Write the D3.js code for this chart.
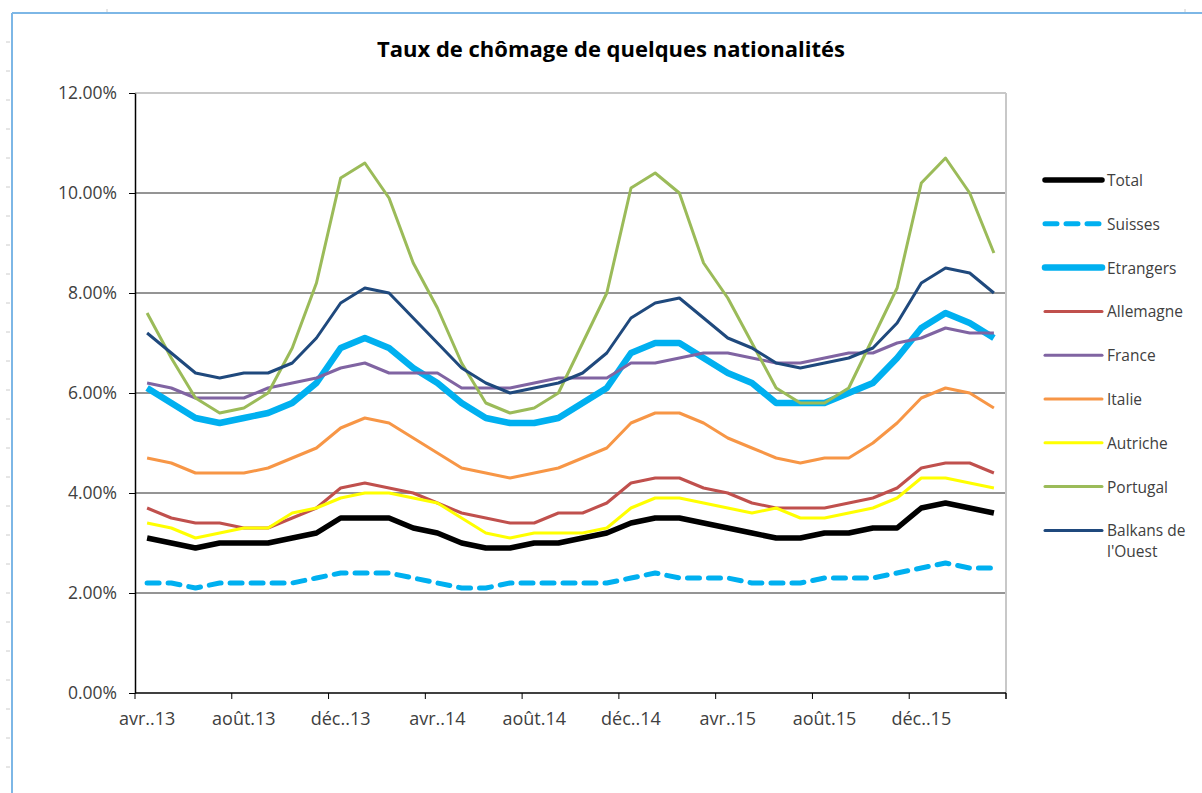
<!DOCTYPE html>
<html>
<head>
<meta charset="utf-8">
<script src="https://cdn.jsdelivr.net/npm/d3@7"></script>
<style>
  body { margin: 0; background: #fff; }
  svg { display: block; font-family: "Open Sans", "Noto Sans", sans-serif; }
</style>
</head>
<body>
<svg id="chart" width="1202" height="793"></svg>
<script>
// months avr.13 -> mars.16
var months = ["avr..13","mai.13","juin.13","juil..13","août.13","sept..13","oct..13","nov..13",
  "déc..13","janv..14","févr..14","mars.14","avr..14","mai.14","juin.14","juil..14","août.14",
  "sept..14","oct..14","nov..14","déc..14","janv..15","févr..15","mars.15","avr..15","mai.15",
  "juin.15","juil..15","août.15","sept..15","oct..15","nov..15","déc..15","janv..16","févr..16","mars.16"];

var total     = [3.1,3.0,2.9,3.0,3.0,3.0,3.1,3.2,3.5,3.5,3.5,3.3,3.2,3.0,2.9,2.9,3.0,3.0,3.1,3.2,3.4,3.5,3.5,3.4,3.3,3.2,3.1,3.1,3.2,3.2,3.3,3.3,3.7,3.8,3.7,3.6];
var suisses   = [2.2,2.2,2.1,2.2,2.2,2.2,2.2,2.3,2.4,2.4,2.4,2.3,2.2,2.1,2.1,2.2,2.2,2.2,2.2,2.2,2.3,2.4,2.3,2.3,2.3,2.2,2.2,2.2,2.3,2.3,2.3,2.4,2.5,2.6,2.5,2.5];
var etrangers = [6.1,5.8,5.5,5.4,5.5,5.6,5.8,6.2,6.9,7.1,6.9,6.5,6.2,5.8,5.5,5.4,5.4,5.5,5.8,6.1,6.8,7.0,7.0,6.7,6.4,6.2,5.8,5.8,5.8,6.0,6.2,6.7,7.3,7.6,7.4,7.1];
var allemagne = [3.7,3.5,3.4,3.4,3.3,3.3,3.5,3.7,4.1,4.2,4.1,4.0,3.8,3.6,3.5,3.4,3.4,3.6,3.6,3.8,4.2,4.3,4.3,4.1,4.0,3.8,3.7,3.7,3.7,3.8,3.9,4.1,4.5,4.6,4.6,4.4];
var france    = [6.2,6.1,5.9,5.9,5.9,6.1,6.2,6.3,6.5,6.6,6.4,6.4,6.4,6.1,6.1,6.1,6.2,6.3,6.3,6.3,6.6,6.6,6.7,6.8,6.8,6.7,6.6,6.6,6.7,6.8,6.8,7.0,7.1,7.3,7.2,7.2];
var italie    = [4.7,4.6,4.4,4.4,4.4,4.5,4.7,4.9,5.3,5.5,5.4,5.1,4.8,4.5,4.4,4.3,4.4,4.5,4.7,4.9,5.4,5.6,5.6,5.4,5.1,4.9,4.7,4.6,4.7,4.7,5.0,5.4,5.9,6.1,6.0,5.7];
var autriche  = [3.4,3.3,3.1,3.2,3.3,3.3,3.6,3.7,3.9,4.0,4.0,3.9,3.8,3.5,3.2,3.1,3.2,3.2,3.2,3.3,3.7,3.9,3.9,3.8,3.7,3.6,3.7,3.5,3.5,3.6,3.7,3.9,4.3,4.3,4.2,4.1];
var portugal  = [7.6,6.7,5.9,5.6,5.7,6.0,6.9,8.2,10.3,10.6,9.9,8.6,7.7,6.6,5.8,5.6,5.7,6.0,7.0,8.0,10.1,10.4,10.0,8.6,7.9,7.0,6.1,5.8,5.8,6.1,7.1,8.1,10.2,10.7,10.0,8.8];
var balkans   = [7.2,6.8,6.4,6.3,6.4,6.4,6.6,7.1,7.8,8.1,8.0,7.5,7.0,6.5,6.2,6.0,6.1,6.2,6.4,6.8,7.5,7.8,7.9,7.5,7.1,6.9,6.6,6.5,6.6,6.7,6.9,7.4,8.2,8.5,8.4,8.0];

var yTicks = [0,2,4,6,8,10,12];

var series = [
  {name: "Total", values: total, color: "#000000", width: 5.5},
  {name: "Suisses", values: suisses, color: "#00B0F0", width: 5, dash: "12,9"},
  {name: "Etrangers", values: etrangers, color: "#00B0F0", width: 6.5},
  {name: "Allemagne", values: allemagne, color: "#C0504D", width: 3},
  {name: "France", values: france, color: "#8064A2", width: 3},
  {name: "Italie", values: italie, color: "#F79646", width: 3},
  {name: "Autriche", values: autriche, color: "#FFFF00", width: 3},
  {name: "Portugal", values: portugal, color: "#9BBB59", width: 3},
  {name: "Balkans de|l'Ouest", values: balkans, color: "#1F497D", width: 3}
];

var svg = d3.select("#chart");

// sheet frame
svg.append("line").attr("x1", 12).attr("x2", 1202).attr("y1", 13).attr("y2", 13)
  .attr("stroke", "#7DB7E6").attr("stroke-width", 2);
svg.append("line").attr("x1", 12).attr("x2", 12).attr("y1", 13).attr("y2", 793)
  .attr("stroke", "#7DB7E6").attr("stroke-width", 2);
for (var ty = 42; ty < 793; ty += 29) {
  svg.append("line").attr("x1", 6).attr("x2", 10).attr("y1", ty).attr("y2", ty)
    .attr("stroke", "#ccc");
}
[107, 1185].forEach(function (tx) {
  svg.append("line").attr("x1", tx).attr("x2", tx).attr("y1", 9).attr("y2", 12)
    .attr("stroke", "#ccc");
});

var plotL = 135, plotR = 1006, plotT = 93, plotB = 693;

var x = d3.scaleBand().domain(months).range([plotL, plotR]);
var y = d3.scaleLinear().domain([0, 12]).range([plotB, plotT]);

// title
svg.append("text").attr("x", 611).attr("y", 57).attr("text-anchor", "middle")
  .attr("font-size", 22).attr("font-weight", "bold").attr("fill", "#000")
  .text("Taux de chômage de quelques nationalités");

// gridlines
svg.append("g").selectAll("line").data(yTicks.slice(1, -1)).join("line")
  .attr("x1", plotL).attr("x2", plotR)
  .attr("y1", d => y(d)).attr("y2", d => y(d))
  .attr("stroke", "#2a2a2a").attr("stroke-width", 1);

// plot border top/right
svg.append("line").attr("x1", plotL).attr("x2", plotR).attr("y1", plotT).attr("y2", plotT)
  .attr("stroke", "#c8c8c8").attr("stroke-width", 2);
svg.append("line").attr("x1", plotR).attr("x2", plotR).attr("y1", plotT).attr("y2", plotB)
  .attr("stroke", "#c8c8c8").attr("stroke-width", 2);

// y axis
var yAxis = svg.append("g").attr("transform", "translate(" + plotL + ",0)")
  .call(d3.axisLeft(y).tickValues(yTicks).tickFormat(d => d.toFixed(2) + "%").tickSize(6).tickSizeOuter(0));
yAxis.select(".domain").attr("stroke", "#000").attr("stroke-width", 1.5);
yAxis.selectAll(".tick line").attr("stroke", "#000");
yAxis.selectAll(".tick text").attr("font-size", 17.5).attr("fill", "#404040")
  .attr("font-family", "Open Sans, sans-serif").attr("x", -18);

// x axis: ticks at category boundaries every 4 months, labels at centers
var step = x.step();
var bounds = d3.range(0, months.length + 1, 4).concat([months.length]);
var xg = svg.append("g");
xg.append("line").attr("x1", plotL).attr("x2", plotR).attr("y1", plotB).attr("y2", plotB)
  .attr("stroke", "#000").attr("stroke-width", 1.5);
xg.selectAll("line.t").data(bounds).join("line").attr("class", "t")
  .attr("x1", d => plotL + d * step).attr("x2", d => plotL + d * step)
  .attr("y1", plotB).attr("y2", plotB + 6).attr("stroke", "#000");
xg.selectAll("text").data(months.filter((m, i) => i % 4 === 0)).join("text")
  .attr("x", d => x(d) + step / 2).attr("y", 725)
  .attr("text-anchor", "middle").attr("font-size", 18).attr("fill", "#404040")
  .text(d => d);

// lines
var line = d3.line()
  .x((d, i) => x(months[i]) + step / 2)
  .y(d => y(d));

svg.append("g").selectAll("path").data(series).join("path")
  .attr("d", d => line(d.values))
  .attr("fill", "none")
  .attr("stroke", d => d.color)
  .attr("stroke-width", d => d.width)
  .attr("stroke-dasharray", d => d.dash || null)
  .attr("stroke-linejoin", "round")
  .attr("stroke-linecap", d => d.dash ? "round" : "butt");

// legend
var lg = svg.append("g").selectAll("g").data(series).join("g")
  .attr("transform", (d, i) => "translate(1045," + (180 + i * 43.8) + ")");
lg.append("line").attr("x1", 0).attr("x2", 57).attr("y1", 0).attr("y2", 0)
  .attr("stroke", d => d.color).attr("stroke-width", d => d.width)
  .attr("stroke-dasharray", d => d.dash ? "12,9" : null)
  .attr("stroke-linecap", "round");
lg.each(function (d) {
  var t = d3.select(this).append("text").attr("x", 62).attr("y", 6)
    .attr("font-size", 15.5).attr("fill", "#404040");
  d.name.split("|").forEach(function (part, k) {
    t.append("tspan").attr("x", 62).attr("dy", k ? 21 : 0).text(part);
  });
});
</script>
</body>
</html>
